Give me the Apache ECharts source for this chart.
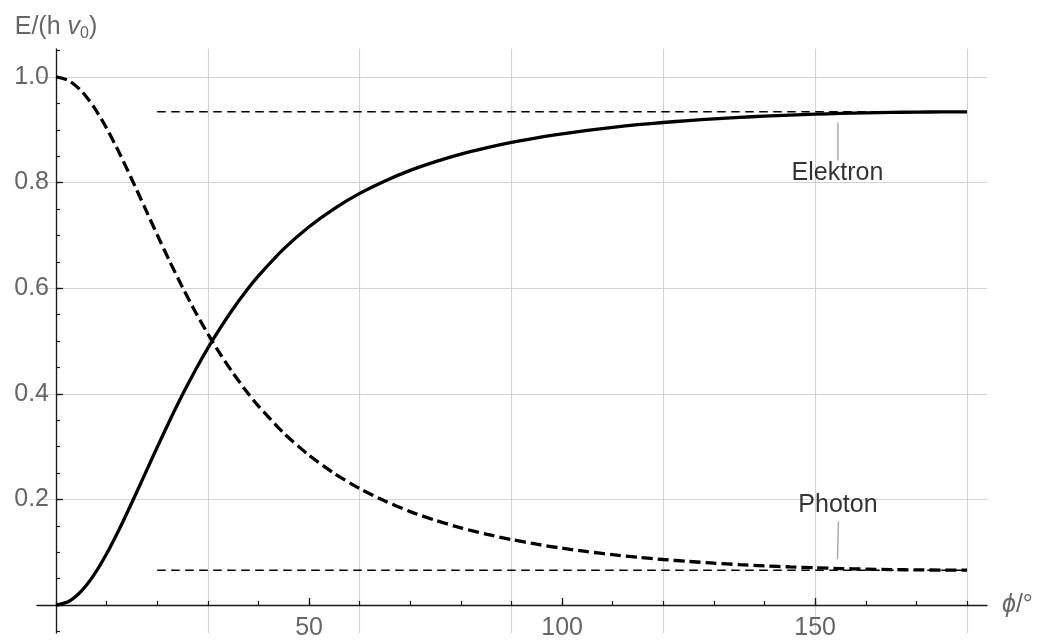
<!DOCTYPE html>
<html>
<head>
<meta charset="utf-8">
<script src="https://cdn.jsdelivr.net/npm/echarts@6/dist/echarts.min.js"></script>
<style>
	html, body { margin:0; padding:0; background:#fff; }
	#chart { width:1037px; height:644px; }
</style>
</head>
<body>
<div id="chart"></div>
<script>
	// angle in degrees
	var phi = [0, 2.5, 5, 7.5, 10, 12.5, 15, 17.5, 20, 22.5, 25, 27.5, 30, 32.5, 35, 37.5, 40,
		45, 50, 55, 60, 65, 70, 75, 80, 85, 90, 95, 100, 105, 110, 115, 120, 125, 130, 135,
		140, 145, 150, 155, 160, 165, 170, 175, 180];

	// E/(h v0)
	var photon = [1.0, 0.9933, 0.9738, 0.9430, 0.9030, 0.8565, 0.8059, 0.7535, 0.7011, 0.6501,
		0.6015, 0.5559, 0.5136, 0.4746, 0.4389, 0.4063, 0.3768,
		0.3256, 0.2836, 0.2491, 0.2205, 0.1968, 0.1769, 0.1603, 0.1461, 0.1342, 0.1239, 0.1151,
		0.1076, 0.1010, 0.0953, 0.0904, 0.0862, 0.0825, 0.0793, 0.0765, 0.0742, 0.0721, 0.0705,
		0.0691, 0.0680, 0.0671, 0.0665, 0.0662, 0.0661];
	var electron = [0, 0.0067, 0.0262, 0.0570, 0.0970, 0.1435, 0.1941, 0.2465, 0.2989, 0.3499,
		0.3985, 0.4441, 0.4864, 0.5254, 0.5611, 0.5937, 0.6232,
		0.6744, 0.7164, 0.7509, 0.7795, 0.8032, 0.8231, 0.8397, 0.8539, 0.8658, 0.8761, 0.8849,
		0.8924, 0.8990, 0.9047, 0.9096, 0.9138, 0.9175, 0.9207, 0.9235, 0.9258, 0.9279, 0.9295,
		0.9309, 0.9320, 0.9329, 0.9335, 0.9338, 0.9339];

	// dashed limit lines
	var limitX = [20, 180];
	var limitElectron = 0.934;
	var limitPhoton = 0.066;

	// annotations
	var labelNames = ["Elektron", "Photon"];
	var labelAt = [[154.4, 0.818], [154.5, 0.189]];
	var leaderLines = [[[154.5, 0.913], [154.5, 0.842]], [[154.6, 0.158], [154.4, 0.087]]];

	var xMajor = [50, 100, 150];
	var yMajorStep = 0.2;
	var xMinorStep = 10;
	var yMinorStep = 0.05;
	var xGridStep = 30;

	var FONT = "Liberation Sans";
	var LABEL_GRAY = "#666";
	var GRID_GRAY = "#d2d2d2";
	var AXIS_BLACK = "#1a1a1a";

	var pairs = function(xs, ys){
		var out = [];
		for (var i = 0; i < xs.length; i++){
			out.push([xs[i], ys[i]]);
		}
		return out;
	}

	// pixel frame: x 0 -> 56px, 180 -> 967px ; y 0 -> 605px, 1 -> 77px
	var grids = [
		{left:37, top:49, width:950, height:584},      // 0 data + axis lines
		{left:56, top:49, width:911, height:584},      // 1 vertical grid lines
		{left:37, top:77, width:950, height:528},      // 2 horizontal grid lines
		{left:56, top:50.6, width:911, height:580.8},  // 3 minor y ticks
		{left:56, top:77, width:911, height:528},      // 4 major ticks + labels
		{left:56, top:77, width:911, height:528}       // 5 minor x ticks
	];

	var xMin = -3.754, xMax = 183.95, yMin = -0.053, yMax = 1.053;

	var xAxes = [
		{
			type:"value", gridIndex:0, min:xMin, max:xMax,
			axisLine:{onZero:true, lineStyle:{color:AXIS_BLACK, width:1.3}},
			axisTick:{show:false}, axisLabel:{show:false}, splitLine:{show:false},
			name:"{i|ϕ}{n|/°}", nameLocation:"end", nameGap:15,
			nameTextStyle:{
				rich:{
					i:{fontFamily:FONT, fontSize:25, fontStyle:"italic", color:LABEL_GRAY},
					n:{fontFamily:FONT, fontSize:25, color:LABEL_GRAY}
				}
			}
		},
		{
			type:"value", gridIndex:1, min:0, max:180, interval:xGridStep,
			axisLine:{show:false}, axisTick:{show:false}, axisLabel:{show:false},
			splitLine:{show:true, lineStyle:{color:GRID_GRAY, width:1.2}}
		},
		{type:"value", gridIndex:2, min:xMin, max:xMax, show:false},
		{type:"value", gridIndex:3, min:0, max:180, show:false},
		{
			type:"value", gridIndex:4, min:0, max:180,
			axisLine:{show:false},
			axisTick:{show:true, inside:true, length:7, customValues:xMajor, lineStyle:{color:AXIS_BLACK, width:1.3}},
			axisLabel:{show:true, customValues:xMajor, margin:11, color:LABEL_GRAY, fontFamily:FONT, fontSize:25},
			splitLine:{show:false}
		},
		{
			type:"value", gridIndex:5, min:0, max:180, interval:xMinorStep,
			axisLine:{show:false},
			axisTick:{show:true, inside:true, length:4, lineStyle:{color:AXIS_BLACK, width:1.2}},
			axisLabel:{show:false}, splitLine:{show:false}
		}
	];

	var yAxes = [
		{
			type:"value", gridIndex:0, min:yMin, max:yMax,
			axisLine:{onZero:true, lineStyle:{color:AXIS_BLACK, width:1.3}},
			axisTick:{show:false}, axisLabel:{show:false}, splitLine:{show:false},
			name:"{n|E/(h }{v|v}{s|0}{n|)}", nameLocation:"end", nameGap:7,
			nameTextStyle:{
				rich:{
					n:{fontFamily:FONT, fontSize:25, color:LABEL_GRAY, lineHeight:30},
					v:{fontFamily:FONT, fontSize:25, fontStyle:"italic", color:LABEL_GRAY, lineHeight:30},
					s:{fontFamily:FONT, fontSize:16, color:LABEL_GRAY, lineHeight:16, verticalAlign:"bottom"}
				}
			}
		},
		{type:"value", gridIndex:1, min:yMin, max:yMax, show:false},
		{
			type:"value", gridIndex:2, min:0, max:1, interval:yMajorStep,
			axisLine:{show:false}, axisTick:{show:false}, axisLabel:{show:false},
			splitLine:{show:true, lineStyle:{color:GRID_GRAY, width:1.2}}
		},
		{
			type:"value", gridIndex:3, min:-0.05, max:1.05, interval:yMinorStep,
			axisLine:{show:false},
			axisTick:{show:true, inside:true, length:4, lineStyle:{color:AXIS_BLACK, width:1.2}},
			axisLabel:{show:false}, splitLine:{show:false}
		},
		{
			type:"value", gridIndex:4, min:0, max:1, interval:yMajorStep,
			axisLine:{show:false},
			axisTick:{show:true, inside:true, length:7, lineStyle:{color:AXIS_BLACK, width:1.3}},
			axisLabel:{
				show:true, margin:7, color:LABEL_GRAY, fontFamily:FONT, fontSize:25,
				formatter:function(v){ return v === 0 ? "" : v.toFixed(1); }
			},
			splitLine:{show:false}
		},
		{type:"value", gridIndex:5, min:0, max:1, show:false}
	];

	var series = [
		{
			name:"Photon", type:"line", xAxisIndex:0, yAxisIndex:0,
			data:pairs(phi, photon), showSymbol:false, smooth:0.25,
			lineStyle:{color:"#000", width:3.3, type:[11, 5]}, z:4
		},
		{
			name:"Elektron", type:"line", xAxisIndex:0, yAxisIndex:0,
			data:pairs(phi, electron), showSymbol:false, smooth:0.25,
			lineStyle:{color:"#000", width:3.3}, z:5
		},
		{
			type:"line", xAxisIndex:0, yAxisIndex:0, showSymbol:false,
			data:[[limitX[0], limitElectron], [limitX[1], limitElectron]],
			lineStyle:{color:"#000", width:1.5, type:[8.5, 5.5]}, z:3
		},
		{
			type:"line", xAxisIndex:0, yAxisIndex:0, showSymbol:false,
			data:[[limitX[0], limitPhoton], [limitX[1], limitPhoton]],
			lineStyle:{color:"#000", width:1.5, type:[8.5, 5.5]}, z:3
		}
	];

	for (var k = 0; k < leaderLines.length; k++){
		series.push({
			type:"line", xAxisIndex:0, yAxisIndex:0, showSymbol:false,
			data:leaderLines[k], lineStyle:{color:"#a6a6a6", width:1.4}, z:3
		});
	}

	var labelData = [];
	for (var j = 0; j < labelNames.length; j++){
		labelData.push({name:labelNames[j], value:labelAt[j]});
	}
	series.push({
		type:"scatter", xAxisIndex:0, yAxisIndex:0, data:labelData,
		symbolSize:1, itemStyle:{color:"transparent"},
		label:{show:true, position:"inside", formatter:"{b}", color:"#000", fontFamily:FONT, fontSize:25},
		z:6
	});

	var option = {
		animation:false,
		backgroundColor:"#fff",
		grid:grids,
		xAxis:xAxes,
		yAxis:yAxes,
		series:series
	};

	var chart = echarts.init(document.getElementById("chart"), null, {renderer:"canvas"});
	chart.setOption(option);
</script>
</body>
</html>
